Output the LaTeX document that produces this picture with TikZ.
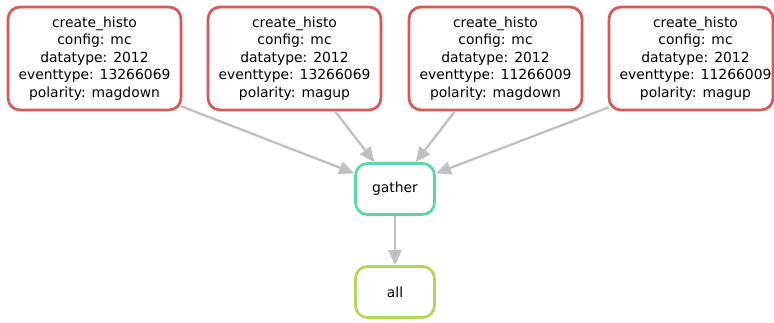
\documentclass[tikz,border=0pt]{standalone}
\usepackage{fontspec}
\setmainfont{DejaVu Sans}
\usetikzlibrary{arrows.meta}
\definecolor{rulered}{RGB}{217,87,87}
\definecolor{ruleteal}{RGB}{87,217,163}
\definecolor{rulelime}{RGB}{175,217,87}
\definecolor{edgegray}{RGB}{192,192,192}
\tikzset{
  rulebox/.style={draw, rounded corners=12pt, line width=2.7pt, fill=white, inner sep=0pt, align=center,
    font=\fontsize{13.9}{17.4}\selectfont},
  histo/.style={rulebox, draw=rulered, minimum width=173pt, minimum height=103pt},
  small/.style={rulebox, minimum width=79pt, minimum height=51pt},
  edge/.style={draw=edgegray, line width=2.3pt, -{Triangle[length=15pt,width=13pt]}},
  plaintext/.style={inner sep=0pt, align=center, font=\fontsize{13.9}{17.4}\selectfont}
}
\begin{document}
\begin{tikzpicture}[x=1pt,y=-1pt]
\useasboundingbox (0,0) rectangle (774,323);
\node[histo] (h1) at (94.5,58.5) {create\_histo\\config: mc\\datatype: 2012\\eventtype: 13266069\\polarity: magdown};
\node[histo] (h2) at (294.5,58.5) {create\_histo\\config: mc\\datatype: 2012\\eventtype: 13266069\\polarity: magup};
\node[histo] (h3) at (495.5,58.5) {create\_histo\\config: mc\\datatype: 2012\\eventtype: 11266009\\polarity: magdown};
\node[histo, minimum width=164pt] (h4) at (691,58.5) {};
\node[plaintext] (t4) at (695.5,58.5) {create\_histo\\config: mc\\datatype: 2012\\eventtype: 11266009\\polarity: magup};
\node[small, draw=ruleteal] (gather) at (395,189) {gather};
\node[small, draw=rulelime] (all) at (395,292) {all};
\draw[edge] ([xshift=-1pt,yshift=5pt]h1.south east) -- (gather);
\draw[edge] (h2) -- (gather);
\draw[edge] (h3) -- (gather);
\draw[edge] ([xshift=1pt,yshift=4pt]h4.south west) -- (gather);
\draw[edge] (gather) -- (all);
\end{tikzpicture}
\end{document}
